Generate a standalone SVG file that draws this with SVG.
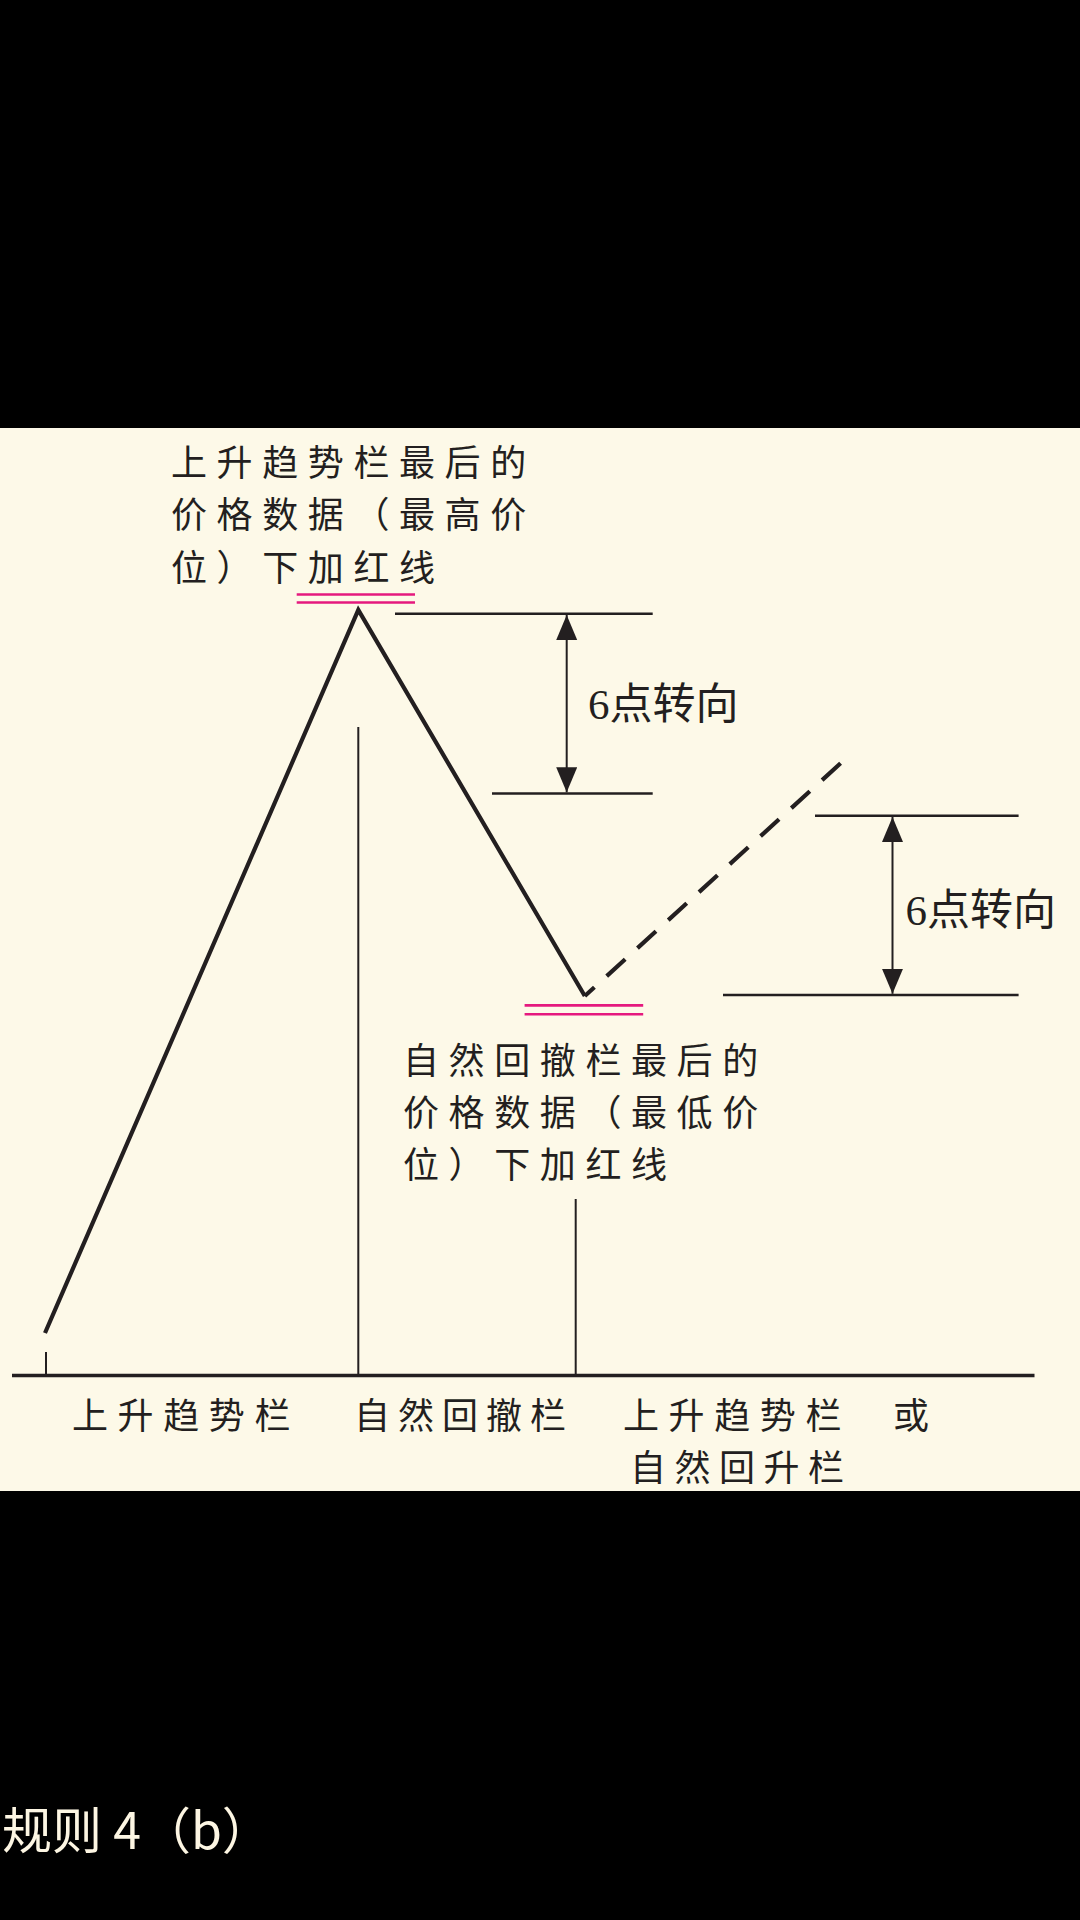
<svg xmlns="http://www.w3.org/2000/svg" width="1080" height="1920" viewBox="0 0 1080 1920">
<style>
.lbl{font-family:"Noto Sans CJK SC","Noto Sans",sans-serif;font-size:36px;fill:#231f20;letter-spacing:9.6px}
.dim{font-family:"Liberation Serif","Noto Sans CJK SC",serif;font-size:43px;fill:#231f20}
.cap{font-family:"Noto Sans CJK SC","Noto Sans",sans-serif;font-size:50px;fill:#fdf6e3}
.thick{stroke:#231f20;stroke-width:4.2;fill:none;stroke-linejoin:miter;stroke-miterlimit:10}
.thin{stroke:#231f20;stroke-width:2;fill:none}
.hline{stroke:#231f20;stroke-width:2.6;fill:none}
.pink{stroke:#e5197e;stroke-width:2.6;fill:none}
</style>
<defs>
<marker id="ah" markerUnits="userSpaceOnUse" markerWidth="26" markerHeight="22" refX="25" refY="10.5" orient="auto-start-reverse" viewBox="0 0 26 22">
<path d="M0,0 L25,10.5 L0,21 z" fill="#231f20"/>
</marker>
</defs>
<rect x="0" y="0" width="1080" height="1920" fill="#000"/>
<rect x="0" y="428" width="1080" height="1063" fill="#fdf9e8"/>

<g id="connectors">
<polyline class="thick" points="45,1333 358.3,610 584.8,996"/>
<line class="thick" x1="584.8" y1="996" x2="840.7" y2="763.2" stroke-dasharray="25 16.6" stroke-dashoffset="12"/>
<line class="thin" x1="46" y1="1352" x2="46" y2="1375"/>
<line class="thin" x1="358.3" y1="727" x2="358.3" y2="1375"/>
<line class="thin" x1="575.7" y1="1199" x2="575.7" y2="1375"/>
<line stroke="#231f20" stroke-width="3.3" x1="12" y1="1375.5" x2="1034.5" y2="1375.5"/>
</g>

<g id="peak-marker">
<line class="pink" x1="296.7" y1="594.5" x2="415" y2="594.5"/>
<line class="pink" x1="296.7" y1="602.5" x2="415" y2="602.5"/>
</g>
<g id="trough-marker">
<line class="pink" x1="524.6" y1="1005.4" x2="643.2" y2="1005.4"/>
<line class="pink" x1="524.6" y1="1014.3" x2="643.2" y2="1014.3"/>
</g>

<g id="dim-top">
<line class="hline" x1="395" y1="613.8" x2="652.7" y2="613.8"/>
<line class="hline" x1="492" y1="793.5" x2="652.7" y2="793.5"/>
<line class="thin" x1="566.7" y1="615" x2="566.7" y2="792.3" marker-start="url(#ah)" marker-end="url(#ah)"/>
<text class="dim" x="588" y="719">6点转向</text>
</g>

<g id="dim-right">
<line class="hline" x1="815" y1="815.7" x2="1018.6" y2="815.7"/>
<line class="hline" x1="723" y1="995" x2="1018.6" y2="995"/>
<line class="thin" x1="892.5" y1="817" x2="892.5" y2="993.8" marker-start="url(#ah)" marker-end="url(#ah)"/>
<text class="dim" x="905.5" y="925">6点转向</text>
</g>

<g id="label-peak">
<text class="lbl" x="171" y="476">上升趋势栏最后的</text>
<text class="lbl" x="171" y="528.3">价格数据（最高价</text>
<text class="lbl" x="171" y="580.6">位）下加红线</text>
</g>

<g id="label-trough">
<text class="lbl" x="403" y="1073.5">自然回撤栏最后的</text>
<text class="lbl" x="403" y="1125.8">价格数据（最低价</text>
<text class="lbl" x="403" y="1178.1">位）下加红线</text>
</g>

<g id="axis-labels">
<text class="lbl" x="72" y="1429">上升趋势栏</text>
<text class="lbl" x="354" y="1429" style="letter-spacing:8px">自然回撤栏</text>
<text class="lbl" x="623" y="1429">上升趋势栏</text>
<text class="lbl" x="893" y="1429">或</text>
<text class="lbl" x="630" y="1481.3" style="letter-spacing:8.5px">自然回升栏</text>
</g>

<g id="caption">
<text class="cap" x="2" y="1849">规则 4（b）</text>
</g>
</svg>
